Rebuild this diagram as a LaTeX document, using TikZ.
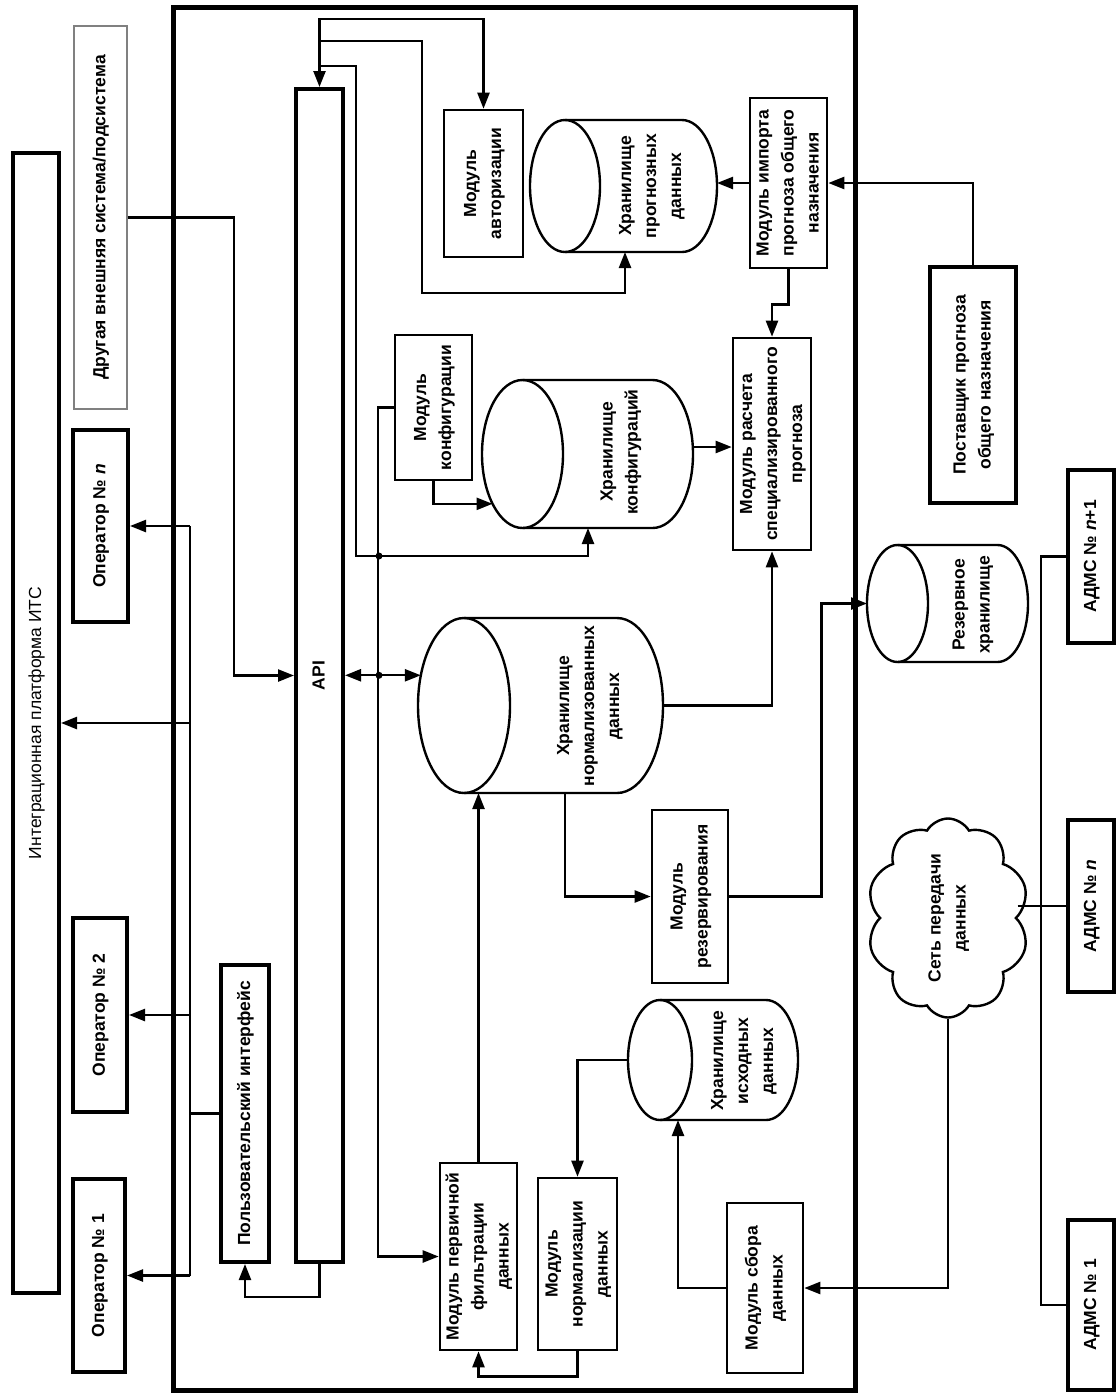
\documentclass[tikz,border=0pt]{standalone}
\usepackage{fontspec}
\setmainfont{Liberation Sans}
\usepackage{graphicx}
\usetikzlibrary{arrows.meta,shapes.symbols,shapes.geometric,calc}
\newcommand\rt[1]{\rotatebox{90}{\begin{tabular}{@{}c@{}}#1\end{tabular}}}
\newcommand\boxat[7]{\node[#1, minimum width={(#5-#3)*1pt}, minimum height={(#6-#4)*1pt}] (#2) at ({(#3+#5)/2},{-(#4+#6)/2}) {#7};}
\newcommand\cylat[6]{%
  \node[cylE, minimum width={2*#4*1pt}, minimum height={2*#5*1pt}] (#1) at (#2,-#3) {};
  \coordinate (#1R) at (#6,-#3);
  \draw[cylline] (#1.north) -- ({#6-#4},{-#3+#5}) arc[start angle=90,end angle=-90,x radius=#4,y radius=#5] -- (#1.south);
}
\begin{document}
\begin{tikzpicture}[x=1pt,y=1pt,
  lbl/.style={font=\fontsize{17.5}{25}\selectfont\bfseries, inner sep=0},
  tbox/.style={draw, line width=4pt, inner sep=0, lbl},
  nbox/.style={draw, line width=2.6pt, inner sep=0, lbl},
  cylE/.style={draw, ellipse, line width=2.4pt, inner sep=0, outer sep=0},
  cylline/.style={line width=2.4pt},
  con/.style={line width=2.4pt},
  arr/.style={con, -{Triangle[length=16pt,width=12pt]}},
  arr2/.style={con, {Triangle[length=16pt,width=12pt]}-{Triangle[length=16pt,width=12pt]}},
]
\useasboundingbox (0,0) rectangle (1116,-1393);

% outside left
\boxat{tbox}{itp}{13}{153}{59}{1293}{\rt{\mdseries Интеграционная платформа ИТС}}
\boxat{draw=gray, line width=1.4pt, inner sep=0, lbl}{ext}{74}{26}{127}{409}{\rt{Другая внешняя система/подсистема}}
\boxat{tbox}{opn}{73}{430}{128}{622}{\rt{Оператор № \textit{n}}}
\boxat{tbox}{op2}{73}{918}{127}{1112}{\rt{Оператор № 2}}
\boxat{tbox}{op1}{73}{1179}{125}{1372}{\rt{Оператор № 1}}

% system frame
\boxat{draw, line width=5pt, inner sep=0}{frame}{173}{7}{855}{1390}{}

% inside
\boxat{tbox}{ui}{221}{965}{269}{1262}{\rt{Пользовательский интерфейс}}
\boxat{tbox}{api}{296}{89}{343}{1262}{\rt{API}}
\boxat{nbox}{auth}{444}{110}{523}{257}{\rt{Модуль\\авторизации}}
\boxat{nbox}{imp}{750}{98}{827}{268}{\rt{Модуль импорта\\прогноза общего\\назначения}}
\boxat{nbox}{cfgm}{395}{335}{472}{480}{\rt{Модуль\\конфигурации}}
\boxat{nbox}{calc}{733}{338}{811}{550}{\rt{Модуль расчета\\специализированного\\прогноза}}
\boxat{nbox}{rez}{652}{810}{728}{983}{\rt{Модуль\\резервирования}}
\boxat{nbox}{filt}{440}{1163}{517}{1350}{\rt{Модуль первичной\\фильтрации\\данных}}
\boxat{nbox}{norm}{538}{1178}{617}{1350}{\rt{Модуль\\нормализации\\данных}}
\boxat{nbox}{coll}{727}{1203}{803}{1373}{\rt{Модуль сбора\\данных}}

% storages
\cylat{stfc}{565}{186}{35}{66}{717}
\node[lbl] (stfcT) at (651,-186) {\rt{Хранилище\\прогнозных\\данных}};
\cylat{stcfg}{522.5}{454}{40.5}{74}{693}
\node[lbl] (stcfgT) at (620,-452) {\rt{Хранилище\\конфигураций}};
\cylat{stnorm}{464}{705.5}{46}{87.5}{663}
\node[lbl] (stnormT) at (589,-706) {\rt{Хранилище\\нормализованных\\данных}};
\cylat{strez}{897.5}{603.5}{30.5}{58.5}{1028}
\node[lbl] (strezT) at (972,-605) {\rt{Резервное\\хранилище}};
\cylat{stsrc}{660}{1060}{32}{60}{798}
\node[lbl] (stsrcT) at (743,-1061) {\rt{Хранилище\\исходных\\данных}};

% outside right
\boxat{tbox}{prov}{930}{267}{1016}{503}{\rt{Поставщик прогноза\\общего назначения}}
\node[cloud, draw, cloud puffs=10, cloud puff arc=120, aspect=0.75, line width=2.4pt, minimum width=150pt, minimum height=199pt, lbl] (cloud) at (948,-918) {\rt{Сеть передачи\\данных}};
\boxat{tbox}{admsA}{1068}{470}{1114}{643}{\rt{АДМС № \textit{n}+1}}
\boxat{tbox}{admsN}{1068}{820}{1114}{992}{\rt{АДМС № \textit{n}}}
\boxat{tbox}{adms1}{1068}{1220}{1114}{1390}{\rt{АДМС № 1}}

% connectors
\draw[arr] (ext.east) -- ++(106,0) |- (api.west);
\draw[arr2] (api.north) -- ++(0,68) -| (auth.north);
\draw[arr] ([yshift=46pt]api.north) -- ++(102.5,0) -- ++(0,-252) -| (625,0 |- stfc.south);
\draw[arr] ([yshift=21pt]api.north) -- ++(36.5,0) |- (588,-556) -- (588,0 |- stcfg.south);
\draw[arr] (cfgm.west) -- ++(-16,0) |- (filt.west);
\fill (379,-556) circle[radius=3.5];
\fill (379,0 |- stnorm.145.7) circle[radius=3.5];
\draw[arr2] (api.east |- stnorm.145.7) -- (stnorm.145.7);
\draw[arr] (cfgm.south) |- (stcfg.-121.7);
\draw[arr] ([yshift=7pt]stcfgR) -- ([yshift=7pt]stcfgR -| calc.west);
\draw[arr] (imp.west) -- (imp.west -| stfcR);
\draw[arr] (imp.south) -- ++(0,-35) -| (calc.north);
\draw[arr] (prov.north) |- (imp.east);
\draw[arr] (stnormR) -| (calc.south);
\draw[arr] (565,0 |- stnorm.south) |- (rez.west);
\draw[arr] (rez.east) -- ++(92,0) |- (strez.west);
\draw[arr] (filt.north) -- (filt.north |- stnorm.south);
\draw[arr] (norm.south) -- ++(0,-25) -| (filt.south);
\draw[arr] (stsrc.west) -| (norm.north);
\draw[arr] (coll.west) -| (678,0 |- stsrc.south);
\draw[arr] (cloud.south) |- (coll.east);
\draw[con] (admsA.west) -- ++(-25,0) |- (adms1.west);
\draw[con] (cloud.east |- admsN.west) -- (admsN.west);
\draw[arr] (api.south) -- ++(0,-33) -| (ui.south);
\draw[con] (ui.west) -- (190,0 |- ui.west);
\draw[con] (190,0 |- opn.east) -- (190,0 |- op1.east);
\draw[arr] (190,0 |- opn.east) -- (opn.east);
\draw[arr] (190,-723) -- (itp.east |- 0,-723);
\draw[arr] (190,0 |- op2.east) -- (op2.east);
\draw[arr] (190,0 |- op1.east) -- (op1.east);
\end{tikzpicture}
\end{document}
